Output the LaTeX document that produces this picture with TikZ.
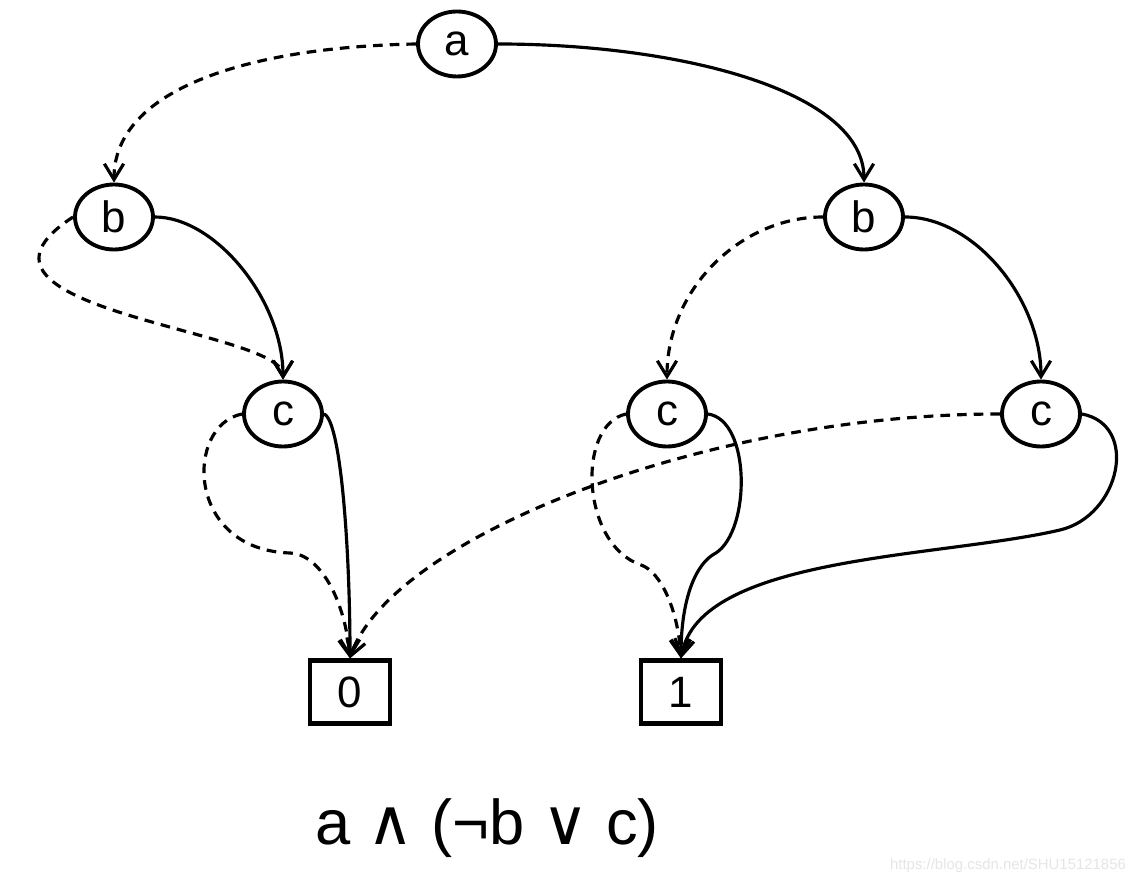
\documentclass[tikz,border=0pt]{standalone}
\usepackage{fontspec}
\setmainfont{Liberation Sans}
\newfontfamily\opfont{DejaVu Sans}
\usetikzlibrary{arrows.meta,shapes.geometric}

\begin{document}
\begin{tikzpicture}[x=0.02cm, y=-0.02cm, font=\fontsize{25}{28}\selectfont,
  var/.style={draw, ellipse, line width=2.2pt, minimum width=1.56cm, minimum height=1.3cm, inner sep=0pt},
  leaf/.style={draw, rectangle, line width=2.4pt, minimum width=1.6cm, minimum height=1.26cm, inner sep=0pt},
  hi/.style={line width=1.8pt, -{Straight Barb[length=9pt, width=11pt, line width=1.8pt]}},
  lo/.style={hi, dash pattern=on 5.5pt off 4pt}]
\useasboundingbox (0,0) rectangle (1143,884);
\node[var] (a) at (457,44) {a};
\node[var] (b1) at (114,217) {b};
\node[var] (b2) at (864,217) {b};
\foreach \n/\x in {c1/283,c2/667,c3/1041} \node[var] (\n) at (\x,414) {c};
\node[leaf] (n0) at (350,692) {0};
\node[leaf] (n1) at (681,692) {1};
\node (expr) at (487,828) {\fontsize{36}{40}\selectfont a {\opfont ∧} (¬b {\opfont ∨} c)};
\node[font=\fontsize{8.5}{10}\selectfont, text=black!10] (wm) at (1008,866) {https://blog.csdn.net/SHU15121856};
\draw[lo] (a.west) .. controls +(-166,3) and +(0,-94) .. (b1.north);
\draw[hi] (a.east) .. controls +(181,0) and +(0,-92) .. (b2.north);
\draw[hi] (b1.east) .. controls +(60,0) and +(0,-80) .. (c1.north);
\draw[lo] (b1.west) .. controls +(-143,93) and +(0,-50) .. (c1.north);
\draw[lo] (b2.west) .. controls +(-83,0) and +(0,-90) .. (c2.north);
\draw[hi] (b2.east) .. controls +(70,0) and +(0,-80) .. (c3.north);
\draw[lo] (c1.west) .. controls +(-57,11) and +(-105,-3) .. ++(48,139) .. controls +(30,1) and +(-5,-58) .. (n0.north);
\draw[hi] (c1.east) .. controls +(17,6) and +(0,-108) .. (n0.north);
\draw[lo] (c3.west) .. controls +(-300,0) and +(40,-118) .. (n0.north);
\draw[lo] (c2.west) .. controls +(-50,11) and +(-60,-20) .. ++(15,151) .. controls +(20,7) and +(-3,-48) .. (n1.north);
\draw[hi] (c2.east) .. controls +(43,6) and +(35,-23) .. ++(8,139) .. controls +(-20,10) and +(0,-60) .. (n1.north);
\draw[hi] (c3.east) .. controls +(58,11) and +(60,-14) .. ++(-22,116) .. controls +(-120,28) and +(19,-103) .. (n1.north);
\end{tikzpicture}
\end{document}
